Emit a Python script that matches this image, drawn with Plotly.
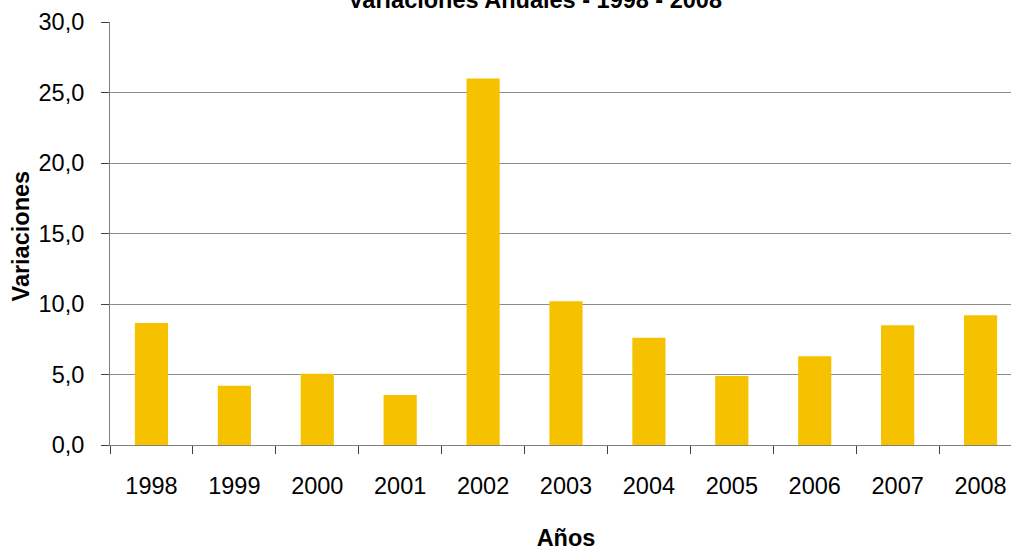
import plotly.graph_objects as go

years = ["1998", "1999", "2000", "2001", "2002", "2003", "2004", "2005", "2006", "2007", "2008"]
variaciones = [8.65, 4.2, 5.05, 3.55, 26.0, 10.2, 7.6, 4.9, 6.3, 8.5, 9.2]

title_text = "Variaciones Anuales - 1998 - 2008"
x_title = "Años"
y_title = "Variaciones"

W, H = 1022, 551
L, T, B = 110, 22, 106
FONT = "Liberation Sans, Arial, sans-serif"
FS = 23.5
plot_w = W - L
plot_h = H - T - B

fig = go.Figure()
fig.add_trace(go.Bar(
    x=years, y=variaciones,
    marker=dict(color="#F6C200", line=dict(width=0)),
    hoverinfo="x+y",
))

fig.update_layout(
    width=W, height=H,
    margin=dict(l=L, r=0, t=T, b=B),
    paper_bgcolor="white", plot_bgcolor="white",
    separators=",.",
    bargap=0.6,
    showlegend=False,
    font=dict(family=FONT, size=FS, color="black"),
    title=dict(
        text="<b>" + title_text + "</b>",
        x=535 / W, xanchor="center", xref="container",
        y=1.0, yanchor="middle", yref="container",
        font=dict(family=FONT, size=FS, color="black"),
    ),
)

# y-axis title as rotated annotation for precise placement
fig.add_annotation(
    text="<b>" + y_title + "</b>",
    xref="paper", yref="paper",
    x=(20 - L) / plot_w, y=(445 - 236.5) / plot_h,
    xanchor="center", yanchor="middle",
    textangle=-90, showarrow=False,
    font=dict(family=FONT, size=FS, color="black"),
)

fig.update_xaxes(
    type="category",
    range=[-0.5, 10.5],
    showline=True, linecolor="#808080", linewidth=1,
    ticks="outside", tickson="boundaries", ticklen=8, tickcolor="#404040", tickwidth=1,
    ticklabelstandoff=20,
    showgrid=False,
    tickfont=dict(family=FONT, size=FS, color="black"),
    title=dict(text="<b>" + x_title + "</b>", font=dict(family=FONT, size=FS, color="black"), standoff=34),
)

fig.update_yaxes(
    range=[0, 30], dtick=5, tick0=0, tickformat=".1f",
    showline=True, linecolor="#808080", linewidth=1,
    ticks="outside", ticklen=8, tickcolor="#404040", tickwidth=1,
    ticklabelstandoff=12,
    showgrid=True, gridcolor="#8c8c8c", gridwidth=1,
    zeroline=False,
    tickfont=dict(family=FONT, size=FS, color="black"),
)

fig.write_html(
    "out.html",
    config={"displayModeBar": False},
    post_script="document.body.style.margin='0';document.body.style.overflow='hidden';",
)
